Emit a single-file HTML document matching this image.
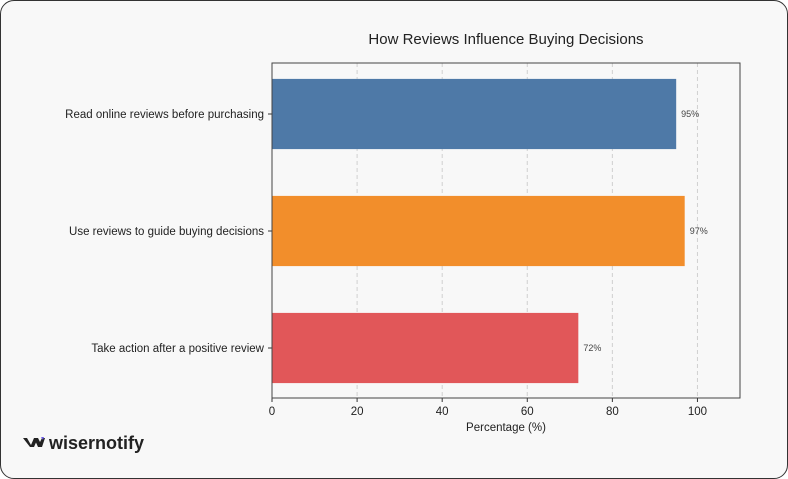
<!DOCTYPE html>
<html><head><meta charset="utf-8"><style>
body{margin:0;background:#fff;font-family:"Liberation Sans",sans-serif}
#card{position:absolute;left:0;top:0;width:786px;height:477px;border:1px solid #333;border-radius:14px;background:#f8f8f8;overflow:hidden}
</style></head><body>
<div id="card">
<svg id="chart" width="788" height="479"></svg>
</div>
<script>
const categories=["Read online reviews before purchasing","Use reviews to guide buying decisions","Take action after a positive review"];
const values=[95,97,72];
const colors=["#4e79a7","#f28e2b","#e15759"];
const xTicks=[0,20,40,60,80,100];
const NS="http://www.w3.org/2000/svg";
const svg=document.getElementById('chart');
const L=271,R=739,T=62,B=397,XMAX=110;
const x=v=>L+(R-L)*v/XMAX;
const band=117;
const yc=i=>T+51+band*i;
const bh=band*0.6;
function mk(tag,attrs,txt){const e=document.createElementNS(NS,tag);for(const k in attrs)e.setAttribute(k,attrs[k]);if(txt!==undefined)e.textContent=txt;svg.appendChild(e);return e;}
let t=mk('text',{x:505,y:43,'text-anchor':'middle','font-size':15,fill:'#222'},'How Reviews Influence Buying Decisions');


xTicks.forEach(v=>{
 let g=mk('line',{x1:x(v),x2:x(v),y1:T,y2:B,stroke:'#d0d0d0','stroke-dasharray':'4,3','stroke-width':1});
 
 
 let tk=mk('line',{x1:x(v),x2:x(v),y1:B,y2:B+4,stroke:'#333'});
 
 
 let lb=mk('text',{x:x(v),y:B+17,'text-anchor':'middle','font-size':11.5,fill:'#222'},v);
 
 
});
categories.forEach((c,i)=>{
 let r=mk('rect',{x:x(0),y:yc(i)-bh/2,width:x(values[i])-x(0),height:bh,fill:colors[i]});
 
 
 let v=mk('text',{x:x(values[i])+5,y:yc(i)+3,'font-size':9,fill:'#444'},values[i]+'%');
 
 
 let tk=mk('line',{x1:L-4,x2:L,y1:yc(i),y2:yc(i),stroke:'#333'});
 
 
 let lb=mk('text',{x:L-8,y:yc(i)+4,'text-anchor':'end','font-size':11.5,fill:'#222'},c);
 
 
});
let fr=mk('rect',{x:L,y:T,width:R-L,height:B-T,fill:'none',stroke:'#444','stroke-width':1});


let xl=mk('text',{x:(L+R)/2,y:B+33,'text-anchor':'middle','font-size':11.5,fill:'#222'},'Percentage (%)');


let lg=mk('path',{d:'M22 437 L26 437 L30 444 L33 437 L37 437 L33 446 L29 446 Z M33 437 L37 437 L39 441 L41 437 L44 437 L41 446 L37 446 Z',fill:'#222'});


let dot=mk('path',{d:'M40 436 L43 436 L42 439 Z',fill:'#6c5ce7'});


let lt=mk('text',{x:48,y:448,'font-size':18,'font-weight':'bold',fill:'#222'},'wisernotify');


</script>
</body></html>
